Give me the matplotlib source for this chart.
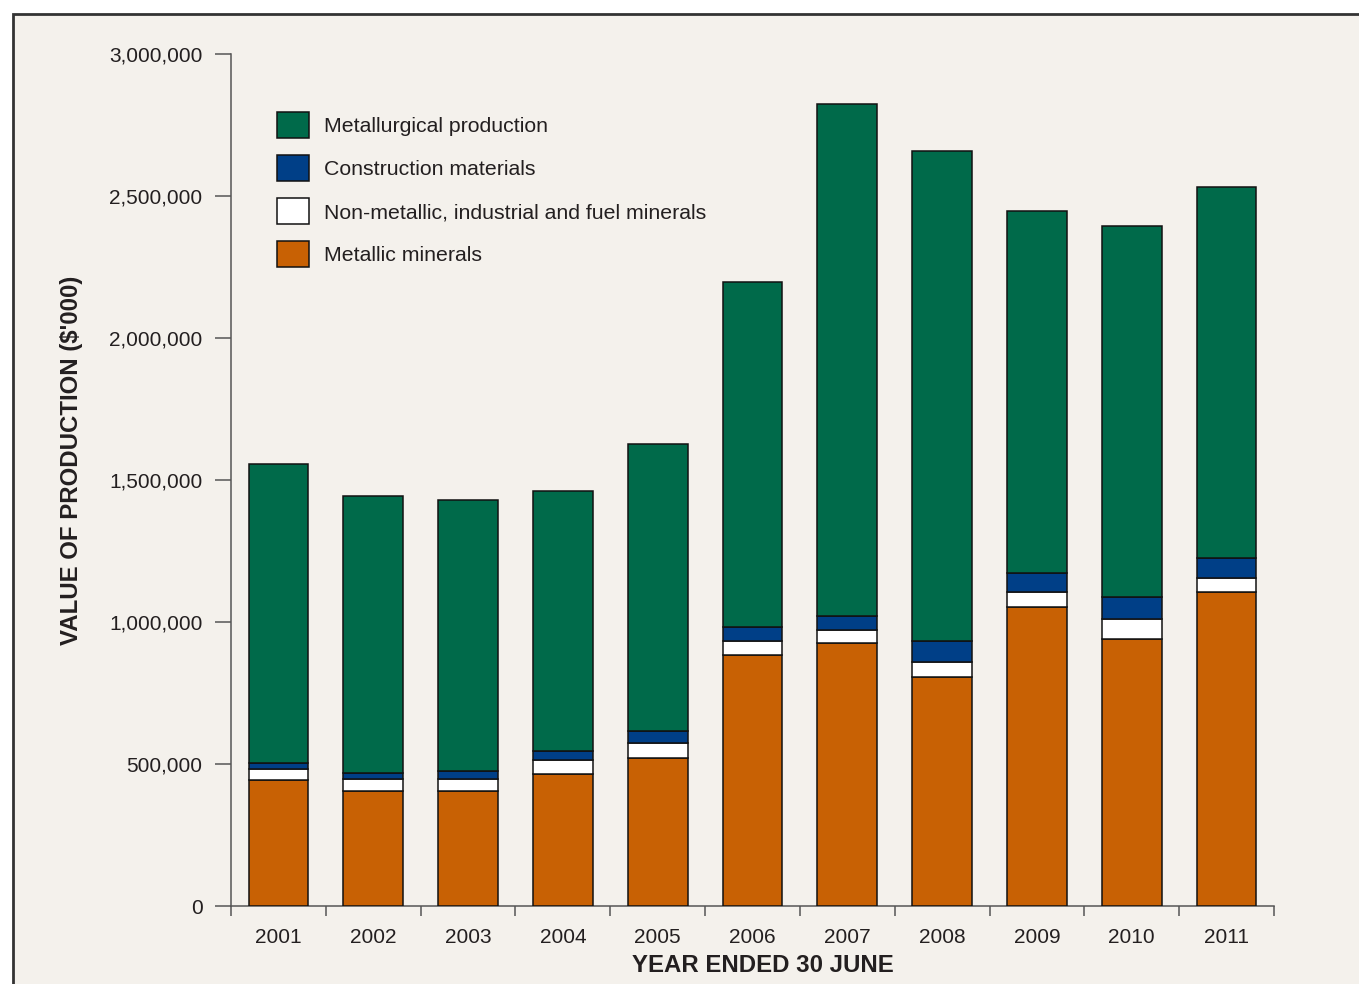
import matplotlib
matplotlib.use("Agg")
import matplotlib.pyplot as plt
from matplotlib.patches import Rectangle
from matplotlib.ticker import FuncFormatter
import numpy as np

years = ["2001", "2002", "2003", "2004", "2005", "2006",
         "2007", "2008", "2009", "2010", "2011"]

# values in $'000, stacked bottom to top
metallic = [444000, 406000, 406000, 466000, 520000, 884000,
            925000, 807000, 1054000, 940000, 1106000]
non_metallic = [37000, 42000, 42000, 48000, 54000, 49000,
                48000, 53000, 53000, 72000, 49000]
construction = [23000, 22000, 28000, 33000, 43000, 48000,
                49000, 73000, 64000, 75000, 70000]
metallurgical = [1054000, 974000, 952000, 914000, 1011000, 1216000,
                 1802000, 1724000, 1277000, 1306000, 1308000]

series = [
    ("Metallic minerals", metallic, "#C86104"),
    ("Non-metallic, industrial and fuel minerals", non_metallic, "#FFFFFF"),
    ("Construction materials", construction, "#003F87"),
    ("Metallurgical production", metallurgical, "#006A4A"),
]

BG = "#F4F1EC"
TXT = "#231F20"
plt.rcParams["font.family"] = ["Liberation Sans", "DejaVu Sans"]

W, H = 1359, 984
fig = plt.figure(figsize=(W / 100, H / 100), dpi=100, facecolor="white")

# framed panel behind everything
fig.add_artist(Rectangle((13 / W, -0.01), 1.1, 1 - 14 / H + 0.01,
                         transform=fig.transFigure, facecolor=BG,
                         edgecolor="#333333", linewidth=2, zorder=-10))

ax = fig.add_axes([231 / W, (H - 906) / H, (1274 - 231) / W, (906 - 54) / H])
ax.set_facecolor("none")

x = np.arange(len(years))
bottom = np.zeros(len(years))
handles = {}
for name, vals, color in series:
    b = ax.bar(x, vals, width=0.63, bottom=bottom, color=color,
               edgecolor="#111111", linewidth=1.1, label=name, zorder=3)
    handles[name] = b
    bottom += np.array(vals)

ax.set_xlim(-0.5, len(years) - 0.5)
ax.set_ylim(0, 3000000)
ax.set_yticks(np.arange(0, 3000001, 500000))
ax.yaxis.set_major_formatter(FuncFormatter(lambda v, p: f"{int(v):,}"))
ax.set_xticks(x)
ax.set_xticklabels(years)
ax.set_xticks(np.arange(-0.5, len(years)), minor=True)

for s in ["top", "right"]:
    ax.spines[s].set_visible(False)
for s in ["left", "bottom"]:
    ax.spines[s].set_color("#555555")
    ax.spines[s].set_linewidth(1.1)

ax.tick_params(axis="y", length=11.5, width=1.1, color="#555555",
               pad=9, labelsize=15, labelcolor=TXT)
ax.tick_params(axis="x", which="major", length=0, pad=15.5,
               labelsize=15, labelcolor=TXT)
ax.tick_params(axis="x", which="minor", length=7.2, width=1.1,
               color="#555555")

order = ["Metallurgical production", "Construction materials",
         "Non-metallic, industrial and fuel minerals", "Metallic minerals"]
leg = ax.legend([handles[n] for n in order], order,
                loc="upper left", bbox_to_anchor=(277 / W, 1 - 112 / H),
                bbox_transform=fig.transFigure, frameon=False,
                fontsize=15.3, handlelength=1.5, handleheight=1.5,
                handletextpad=0.7, labelspacing=0.81, borderpad=0,
                borderaxespad=0)
for t in leg.get_texts():
    t.set_color(TXT)

fig.text(72 / W, 1 - 460 / H, "VALUE OF PRODUCTION ($'000)", rotation=90,
         ha="center", va="center", fontsize=17.3, fontweight="bold", color=TXT)
fig.text(763 / W, 1 - 965 / H, "YEAR ENDED 30 JUNE", ha="center",
         va="center", fontsize=17.3, fontweight="bold", color=TXT)

fig.savefig("out.png", dpi=100, facecolor="white")
